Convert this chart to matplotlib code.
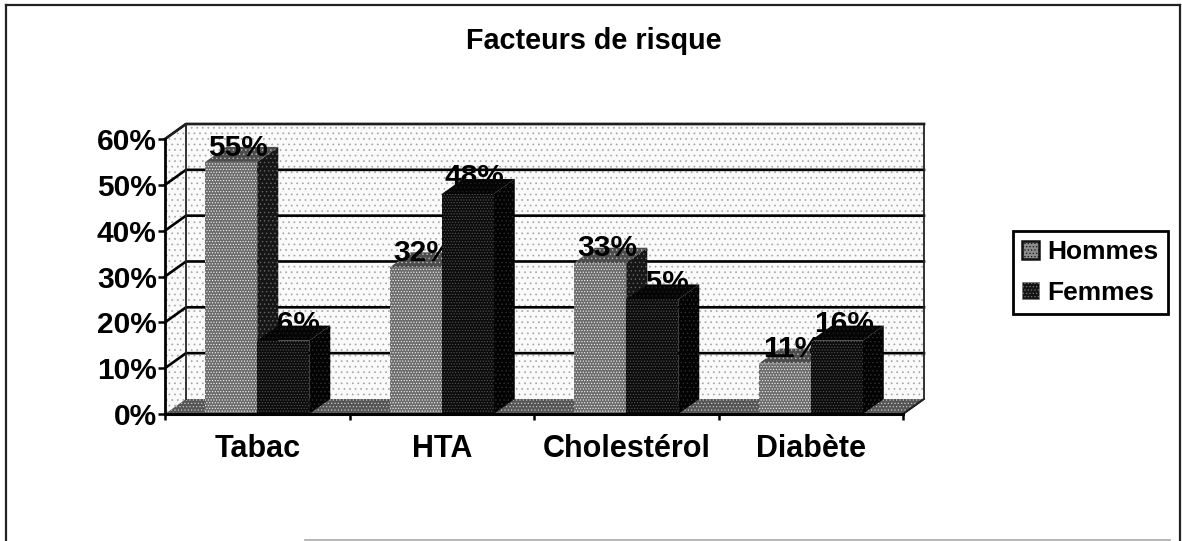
import matplotlib
matplotlib.use("Agg")
import matplotlib.pyplot as plt
from matplotlib.patches import Polygon, Rectangle
from matplotlib.lines import Line2D

plt.rcParams['font.family'] = ['Liberation Sans', 'DejaVu Sans']
plt.rcParams['hatch.linewidth'] = 0.5

categories = ['Tabac', 'HTA', 'Cholestérol', 'Diabète']
hommes = [55, 32, 33, 11]
femmes = [16, 48, 25, 16]
series_names = ['Hommes', 'Femmes']
yticks = [0, 10, 20, 30, 40, 50, 60]

W, H = 1182, 541
fig = plt.figure(figsize=(W / 100, H / 100), dpi=100, facecolor='white')
ax = fig.add_axes([165 / W, 1 - 414 / H, 738 / W, 275 / H])
ax.set_xlim(0, 4)
ax.set_ylim(0, 60)
ax.patch.set_visible(False)
for s in ax.spines.values():
    s.set_visible(False)

# depth of the 3D projection, in data units
DX = 21 / 184.5
DY = 15 / 4.58
BW = 52 / 184.5

WALL = dict(facecolor='#fafafa', edgecolor='#a4a4a4', hatch='...', lw=0)
kw = dict(clip_on=False)

# walls and floor
ax.add_patch(Polygon([(DX, DY), (4 + DX, DY), (4 + DX, 60 + DY), (DX, 60 + DY)], zorder=1, **WALL, **kw))
ax.add_patch(Polygon([(0, 0), (DX, DY), (DX, 60 + DY), (0, 60)], zorder=1, **WALL, **kw))
ax.add_patch(Polygon([(0, 0), (4, 0), (4 + DX, DY), (DX, DY)], zorder=1,
                     facecolor='#555555', edgecolor='#c8c8c8', hatch='.....', lw=0, **kw))

# gridlines
for t in yticks[1:]:
    ax.plot([0, DX, 4 + DX], [t, t + DY, t + DY], color='black', lw=1.9, zorder=2, **kw)
ax.plot([DX, 4 + DX, 4 + DX, 4], [60 + DY, 60 + DY, DY, 0], color='#222222', lw=1.3, zorder=2, **kw)
ax.plot([0, DX, DX], [60, 60 + DY, DY], color='#222222', lw=1.3, zorder=2, **kw)
ax.plot([4, 4 + DX], [0, DY], color='#222222', lw=1.3, zorder=2, **kw)
# axes on the front plane
ax.plot([0, 0], [0, 60], color='black', lw=2.0, zorder=30, **kw)
ax.plot([0, 4], [0, 0], color='black', lw=2.2, zorder=30, **kw)


def bar3d(x0, v, face, edge, side, sedge, top, tedge, z):
    ax.bar(x0, v, BW, align='edge', facecolor=face, edgecolor=edge, hatch='......', lw=0, zorder=z + 1)
    ax.add_patch(Polygon([(x0 + BW, 0), (x0 + BW + DX, DY), (x0 + BW + DX, v + DY), (x0 + BW, v)],
                         facecolor=side, edgecolor=sedge, hatch='....', lw=0, zorder=z, **kw))
    ax.add_patch(Polygon([(x0, v), (x0 + BW, v), (x0 + BW + DX, v + DY), (x0 + DX, v + DY)],
                         facecolor=top, edgecolor=tedge, hatch='....', lw=0, zorder=z, **kw))


for i, (h, f) in enumerate(zip(hommes, femmes)):
    c = i + 0.5
    bar3d(c - BW, h, '#6c6c6c', '#f4f4f4', '#161616', '#666666', '#4c4c4c', '#bbbbbb', 3 + 3 * i)
    bar3d(c, f, '#0c0c0c', '#565656', '#030303', '#303030', '#050505', '#202020', 4 + 3 * i)
    # value labels: the Hommes bar hides part of the Femmes label
    ax.text(c - BW / 2 + DX / 3, h + DY * 0.95, f'{h}%', ha='center', va='center', fontsize=21.5,
            fontweight='bold', zorder=3.5 + 3 * i, color='black')
    ax.text(c + BW / 2 + DX / 3, f + DY * 1.1, f'{f}%', ha='center', va='center', fontsize=21.5,
            fontweight='bold', zorder=2.5 + 3 * i, color='black')

ax.set_xticks([0, 1, 2, 3, 4])
ax.set_xticklabels([])
ax.set_yticks(yticks)
ax.set_yticklabels([f'{t}%' for t in yticks])
ax.tick_params(axis='y', length=5, width=1.8, pad=1, labelsize=21.5)
ax.tick_params(axis='x', length=4, width=1.8)
for lab in ax.get_yticklabels():
    lab.set_fontweight('bold')
for i, name in enumerate(categories):
    ax.annotate(name, xy=(i + 0.5, 0), xytext=(0, -20), textcoords='offset pixels', ha='center', va='top',
                fontsize=22, fontweight='bold', annotation_clip=False)

fig.text(594 / W, 1 - 41 / H, 'Facteurs de risque', ha='center', va='center', fontsize=20.7, fontweight='bold')

# legend
handles = [Rectangle((0, 0), 1, 1, facecolor='#8d8d8d', edgecolor='#111111', hatch='.....', lw=1.8),
           Rectangle((0, 0), 1, 1, facecolor='#141414', edgecolor='#777777', hatch='.....', lw=0.5)]
leg = fig.legend(handles, series_names, loc='center left', bbox_to_anchor=(1013 / W, 1 - 272.5 / H),
                 prop=dict(size=19, weight='bold'), frameon=True, fancybox=False, edgecolor='black',
                 framealpha=1, handlelength=0.65, handleheight=0.65, handletextpad=0.3,
                 borderpad=0.35, labelspacing=0.62, borderaxespad=0)
leg.get_frame().set_linewidth(2)

# outer frame
for xs, ys, col, lw in [([6, 1180], [5, 5], '#222222', 1.6), ([6, 6], [5, 541], '#222222', 1.6),
                        ([1180, 1180], [5, 541], '#222222', 1.6), ([305, 1170], [539.5, 539.5], '#aaaaaa', 1.2)]:
    fig.add_artist(Line2D([x / W for x in xs], [1 - y / H for y in ys], color=col, lw=lw))

fig.savefig('out.png', dpi=100, facecolor='white')
